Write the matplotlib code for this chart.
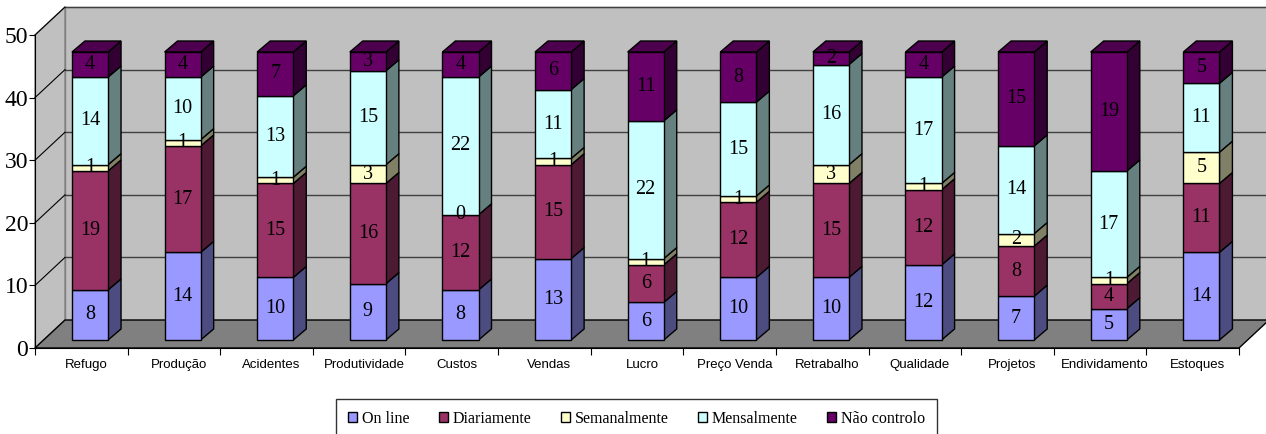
import matplotlib
matplotlib.use("Agg")
import matplotlib.pyplot as plt
from matplotlib.patches import Polygon, Patch

categorias = ["Refugo", "Produção", "Acidentes", "Produtividade", "Custos", "Vendas",
              "Lucro", "Preço Venda", "Retrabalho", "Qualidade", "Projetos",
              "Endividamento", "Estoques"]
series = ["On line", "Diariamente", "Semanalmente", "Mensalmente", "Não controlo"]
on_line = [8, 14, 10, 9, 8, 13, 6, 10, 10, 12, 7, 5, 14]
diariamente = [19, 17, 15, 16, 12, 15, 6, 12, 15, 12, 8, 4, 11]
semanalmente = [1, 1, 1, 3, 0, 1, 1, 1, 3, 1, 2, 1, 5]
mensalmente = [14, 10, 13, 15, 22, 11, 22, 15, 16, 17, 14, 17, 11]
nao_controlo = [4, 4, 7, 3, 4, 6, 11, 8, 2, 4, 15, 19, 5]
valores = [on_line, diariamente, semanalmente, mensalmente, nao_controlo]

cor_frente = ["#9999FF", "#993366", "#FFFFCC", "#CCFFFF", "#660066"]
cor_lado = ["#4C4C80", "#4D1A33", "#808066", "#668080", "#330033"]
cor_topo = "#4D004D"

# geometria do "3D" (em unidades de dados)
DX, DY = 0.324, 4.47        # profundidade das paredes
bx, by = 0.14, 1.76         # profundidade das barras
ox, oy = 0.094, 1.28        # deslocamento da face frontal das barras
largura = 0.39

fig = plt.figure(figsize=(12.66, 4.34), dpi=100)
ax = fig.add_axes([35 / 1266, 86 / 434, 1204 / 1266, 313 / 434])
n = len(categorias)
x0, x1 = -0.5, n - 0.5
ax.set_xlim(x0, x1)
ax.set_ylim(0, 50)
ax.patch.set_visible(False)

# paredes e chão
ax.add_patch(Polygon([(x0 + DX, DY), (x1 + DX, DY), (x1 + DX, 50 + DY), (x0 + DX, 50 + DY)],
                     closed=True, facecolor="#C0C0C0", edgecolor="#808080", lw=1,
                     clip_on=False, zorder=0))
ax.add_patch(Polygon([(x0, 0), (x0 + DX, DY), (x0 + DX, 50 + DY), (x0, 50)],
                     closed=True, facecolor="#C0C0C0", edgecolor="#808080", lw=1,
                     clip_on=False, zorder=0))
ax.add_patch(Polygon([(x0, 0), (x1, 0), (x1 + DX, DY), (x0 + DX, DY)],
                     closed=True, facecolor="#808080", edgecolor="black", lw=1,
                     clip_on=False, zorder=0.5))
for g in range(10, 51, 10):
    ax.plot([x0 + DX, x1 + DX], [g + DY, g + DY], color="#404040", lw=1,
            clip_on=False, zorder=0.2)
    ax.plot([x0, x0 + DX], [g, g + DY], color="black", lw=0.8, clip_on=False, zorder=0.2)

serif = ["Liberation Serif", "DejaVu Serif"]
for i in range(n):
    xl = i + ox - largura / 2
    xr = i + ox + largura / 2
    base = oy
    for s in range(len(series)):
        v = valores[s][i]
        topo = base + v
        if v > 0:
            ax.add_patch(Polygon([(xr, base), (xr + bx, base + by), (xr + bx, topo + by), (xr, topo)],
                                 closed=True, facecolor=cor_lado[s], edgecolor="black",
                                 lw=1, clip_on=False, zorder=2))
            ax.add_patch(Polygon([(xl, base), (xr, base), (xr, topo), (xl, topo)],
                                 closed=True, facecolor=cor_frente[s], edgecolor="black",
                                 lw=1, clip_on=False, zorder=2))
        ax.text(i + ox, (base + topo) / 2, str(v), ha="center", va="center",
                fontsize=14.5, family=serif, color="black", zorder=4)
        base = topo
    ax.add_patch(Polygon([(xl, base), (xr, base), (xr + bx, base + by), (xl + bx, base + by)],
                         closed=True, facecolor=cor_topo, edgecolor="black",
                         lw=1, clip_on=False, zorder=2))

# eixos
for sp in ["top", "right"]:
    ax.spines[sp].set_visible(False)
ax.spines["left"].set_zorder(3)
ax.spines["bottom"].set_zorder(3)
ax.set_yticks(range(0, 51, 10))
ax.tick_params(axis="y", length=4, pad=1, labelsize=17)
for t in ax.get_yticklabels():
    t.set_family(serif)
ax.set_xticks([k - 0.5 for k in range(n + 1)])
ax.set_xticklabels([])
ax.tick_params(axis="x", which="major", length=5, direction="out")
ax.set_xticks([k + 0.055 for k in range(n)], minor=True)
ax.set_xticklabels(categorias, minor=True, fontsize=9.5, family="Liberation Sans")
ax.tick_params(axis="x", which="minor", length=0, pad=8)

handles = [Patch(facecolor=cor_frente[s], edgecolor="black", label=series[s])
           for s in range(len(series))]
leg = fig.legend(handles=handles, loc="upper center", bbox_to_anchor=(0.5028, 0.081),
                 ncol=5, frameon=True, fancybox=False, edgecolor="black",
                 prop={"family": serif, "size": 11.5}, handlelength=0.55, handleheight=0.6,
                 handletextpad=0.3, columnspacing=1.85, borderpad=0.75, borderaxespad=0)
leg.get_frame().set_linewidth(1)

fig.savefig("out.png", dpi=100)
